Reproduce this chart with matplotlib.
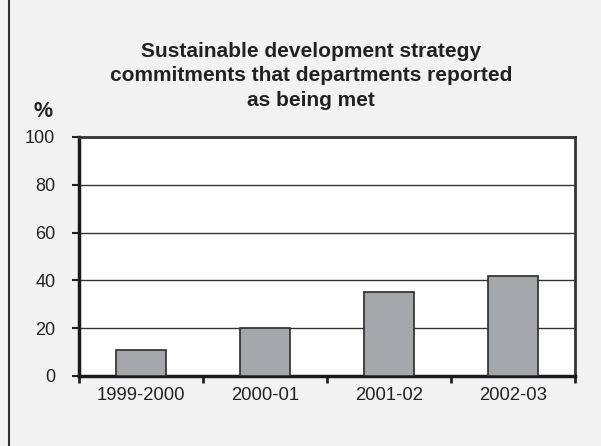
import matplotlib.pyplot as plt
from matplotlib.lines import Line2D

years = ['1999-2000', '2000-01', '2001-02', '2002-03']
met_pct = [11, 20, 35, 42]
y_ticks = [0, 20, 40, 60, 80, 100]

plt.rcParams['font.family'] = ['Liberation Sans', 'DejaVu Sans']

bg = '#f2f2f2'
fig = plt.figure(figsize=(6.01, 4.46), dpi=100, facecolor=bg)
ax = fig.add_axes([0.1314, 0.157, 0.8253, 0.536])
ax.set_facecolor('white')

x = range(len(years))
ax.bar(x, met_pct, width=0.4, color='#a6a7ab', edgecolor='#2b2b2b', linewidth=1.2, zorder=3)

ax.set_xlim(-0.5, len(years) - 0.5)
ax.set_ylim(0, 100)
ax.set_yticks(y_ticks)
ax.set_yticklabels([str(v) for v in y_ticks], fontsize=13, color='#222222')
ax.yaxis.grid(True, color='#333333', linewidth=1.0, zorder=0)

# category labels sit between the boundary ticks
ax.set_xticks([i - 0.5 for i in range(len(years) + 1)])
ax.set_xticklabels([])
ax.set_xticks(list(x), minor=True)
ax.set_xticklabels(years, minor=True, fontsize=13.3, color='#222222')
ax.tick_params(axis='x', which='major', direction='out', length=5, width=2, color='#222222')
ax.tick_params(axis='x', which='minor', length=0, pad=8)
ax.tick_params(axis='y', direction='out', length=5, width=1.5, color='#222222', pad=12)

for side in ['left', 'bottom']:
    ax.spines[side].set_linewidth(2.5)
    ax.spines[side].set_color('#1a1a1a')
for side in ['top', 'right']:
    ax.spines[side].set_linewidth(2)
    ax.spines[side].set_color('#333333')

fig.text(0.518, 0.83,
         'Sustainable development strategy\ncommitments that departments reported\nas being met',
         ha='center', va='center', fontsize=15, fontweight='bold', color='#222222',
         linespacing=1.38)
fig.text(0.0724, 0.751, '%', ha='center', va='center', fontsize=15.5,
         fontweight='bold', color='#222222')

# left border line of the panel
fig.add_artist(Line2D([0.015, 0.015], [0, 1], transform=fig.transFigure,
                      color='#333333', linewidth=1.5))

fig.savefig('out.png', dpi=100, facecolor=bg)
